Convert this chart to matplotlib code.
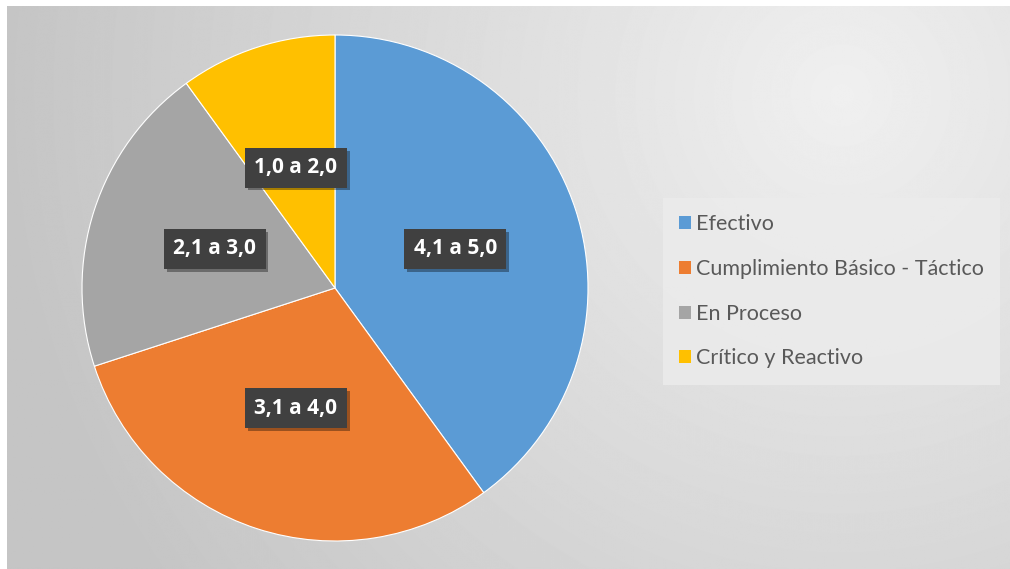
import numpy as np
import matplotlib
matplotlib.use('Agg')
import matplotlib.pyplot as plt
import matplotlib.patheffects as pe

# data
categories = ['Efectivo', 'Cumplimiento Básico - Táctico', 'En Proceso', 'Crítico y Reactivo']
ranges = ['4,1 a 5,0', '3,1 a 4,0', '2,1 a 3,0', '1,0 a 2,0']
shares = [40, 30, 20, 10]
colors = ['#5B9BD5', '#ED7D31', '#A5A5A5', '#FFC000']

W, H = 1010, 569
fig = plt.figure(figsize=(W / 100, H / 100), dpi=100)
fig.patch.set_facecolor('white')

# gradient background
bg = fig.add_axes([7 / W, 0, 1 - 7 / W, 1 - 6 / H])
bg.set_axis_off()
yy, xx = np.mgrid[0:H, 0:W]
d = np.sqrt((xx - 840) ** 2 + (yy - 90) ** 2) / 850
d = np.clip(d, 0, 1)
shade = 0.94 - 0.17 * d
bg.imshow(shade, cmap='gray', vmin=0, vmax=1, aspect='auto', interpolation='bilinear')

# pie
cx, cy, r = 335, 288, 253
ax = fig.add_axes([(cx - r) / W, (H - cy - r) / H, 2 * r / W, 2 * r / H])
wedges, texts = ax.pie(shares, labels=ranges, colors=colors, startangle=90,
                       counterclock=False, labeldistance=0.5,
                       wedgeprops=dict(edgecolor='white', linewidth=0.8))
ax.set_xlim(-1, 1)
ax.set_ylim(-1, 1)
for t in texts:
    t.set_color('white')
    t.set_fontsize(15)
    t.set_fontweight('bold')
    t.set_family(['Open Sans', 'DejaVu Sans'])
    t.set_ha('center')
    t.set_va('center')
    t.set_bbox(dict(boxstyle='square,pad=0.45', facecolor='#404040', edgecolor='none'))
    t.get_bbox_patch().set_path_effects([
        pe.SimplePatchShadow(offset=(2, -2), shadow_rgbFace='black', alpha=0.35),
        pe.Normal()])

leg = fig.legend(wedges, categories, loc='upper left',
                 bbox_to_anchor=(663 / W, 1 - 198 / H), borderaxespad=0,
                 frameon=True, fancybox=False, handlelength=0.55, handleheight=0.55,
                 handletextpad=0.25, labelspacing=1.15, borderpad=0.75,
                 prop={'family': ['Lato', 'DejaVu Sans'], 'size': 15.5})
leg.get_frame().set_facecolor('#ececec')
leg.get_frame().set_alpha(0.8)
leg.get_frame().set_edgecolor('none')
for t in leg.get_texts():
    t.set_color('#595959')
for h in leg.legend_handles:
    h.set_edgecolor('none')

fig.savefig('out.png', dpi=100)
